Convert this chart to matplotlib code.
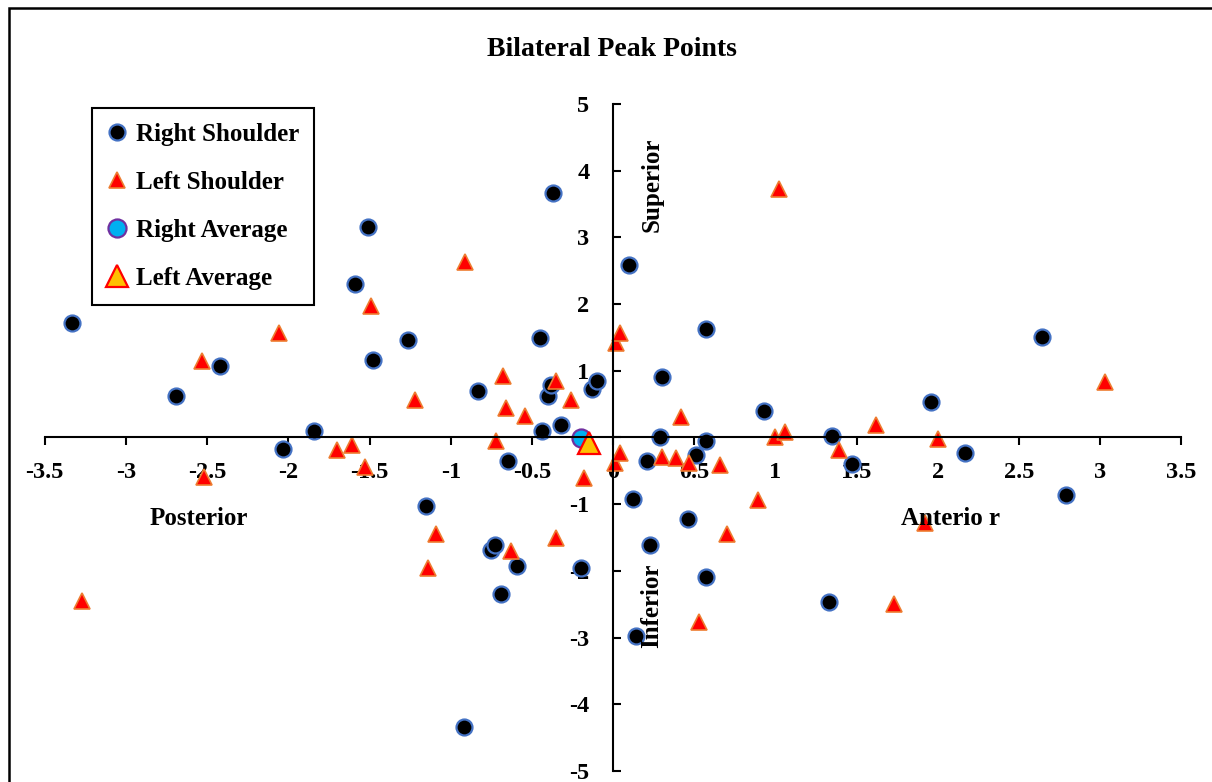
import matplotlib
matplotlib.use("Agg")
import matplotlib.pyplot as plt
from matplotlib.patches import Rectangle

plt.rcParams['font.family'] = ['Liberation Serif', 'DejaVu Serif']
plt.rcParams['font.weight'] = 'bold'
plt.rcParams['axes.unicode_minus'] = False

# peak point coordinates (anterior/posterior on x, superior/inferior on y)
right_x = [-3.33, -2.69, -2.42, -2.03, -1.84, -1.59, -1.51, -1.48, -1.26, -1.15,
           -0.92, -0.83, -0.75, -0.73, -0.69, -0.65, -0.59, -0.45, -0.44, -0.40,
           -0.38, -0.37, -0.32, -0.20, -0.13, -0.10, 0.10, 0.12, 0.14, 0.21,
           0.23, 0.29, 0.30, 0.46, 0.51, 0.57, 0.57, 0.57, 0.93, 1.33,
           1.35, 1.47, 1.96, 2.17, 2.64, 2.79]
right_y = [1.72, 0.62, 1.07, -0.17, 0.10, 2.30, 3.15, 1.16, 1.46, -1.03,
           -4.34, 0.70, -1.69, -1.61, -2.34, -0.36, -1.93, 1.49, 0.10, 0.62,
           0.78, 3.67, 0.19, -1.95, 0.73, 0.85, 2.58, -0.93, -2.98, -0.36,
           -1.61, 0.01, 0.90, -1.22, -0.26, 1.63, -0.05, -2.09, 0.40, -2.47,
           0.02, -0.40, 0.53, -0.23, 1.51, -0.86]

left_x = [-3.27, -2.53, -2.52, -2.06, -1.70, -1.61, -1.53, -1.49, -1.22, -1.14,
          -1.09, -0.91, -0.72, -0.68, -0.66, -0.63, -0.54, -0.35, -0.35, -0.26,
          -0.18, 0.01, 0.02, 0.04, 0.04, 0.30, 0.39, 0.42, 0.47, 0.53,
          0.66, 0.70, 0.89, 1.00, 1.02, 1.06, 1.39, 1.62, 1.73, 1.92,
          2.00, 3.03]
left_y = [-2.45, 1.15, -0.60, 1.56, -0.19, -0.12, -0.44, 1.97, 0.56, -1.95,
          -1.45, 2.63, -0.06, 0.92, 0.44, -1.70, 0.32, 0.84, -1.51, 0.56,
          -0.61, -0.39, 1.41, 1.56, -0.24, -0.30, -0.31, 0.30, -0.39, -2.76,
          -0.42, -1.45, -0.94, 0.00, 3.72, 0.08, -0.19, 0.18, -2.50, -1.29,
          -0.03, 0.83]

right_avg = [-0.20, -0.01]
left_avg = [-0.15, -0.08]

x_ticks = [-3.5, -3, -2.5, -2, -1.5, -1, -0.5, 0, 0.5, 1, 1.5, 2, 2.5, 3, 3.5]
y_ticks = [-5, -4, -3, -2, -1, 0, 1, 2, 3, 4, 5]

fig = plt.figure(figsize=(12.12, 7.82), dpi=100)
ax = fig.add_axes([0.0369, 0.0141, 0.9379, 0.853])

ax.plot(right_x, right_y, 'o', ms=11.5, mfc='black', mec='#4472C4', mew=1.6,
        label='Right Shoulder')
ax.plot(left_x, left_y, '^', ms=11, mfc='#FF0000', mec='#ED7D31', mew=1.2,
        label='Left Shoulder')
ax.plot(right_avg[0], right_avg[1], 'o', ms=13, mfc='#00B0F0', mec='#7030A0', mew=1.6,
        label='Right Average')
ax.plot(left_avg[0], left_avg[1], '^', ms=16, mfc='#FFC000', mec='#FF0000', mew=1.6,
        label='Left Average')

ax.set_xlim(-3.5, 3.5)
ax.set_ylim(-5, 5)

# axes cross at the origin
for side in ['top', 'right']:
    ax.spines[side].set_visible(False)
ax.spines['left'].set_position(('data', 0))
ax.spines['bottom'].set_position(('data', 0))
ax.spines['left'].set_linewidth(1.5)
ax.spines['bottom'].set_linewidth(1.5)

ax.set_xticks(x_ticks)
ax.set_xticklabels([f'{v:g}' for v in x_ticks])
ax.set_yticks(y_ticks)
ax.set_yticklabels([f'{v:g}' for v in y_ticks])
ax.tick_params(axis='x', direction='out', length=6, width=1.5, labelsize=17.5, pad=12)
ax.tick_params(axis='y', direction='in', length=6, width=1.5, labelsize=17.5, pad=17)

ax.text(-2.55, -1.22, 'Posterior', fontsize=18, ha='center', va='center')
ax.text(2.08, -1.22, 'Anterio r', fontsize=18, ha='center', va='center')
ax.text(0.24, 3.78, 'Superior', fontsize=18, rotation=90, ha='center', va='center')
ax.text(0.24, -2.53, 'Inferior', fontsize=18, rotation=90, ha='center', va='center')

fig.text(0.505, 1 - 50 / 782, 'Bilateral Peak Points', fontsize=20,
         ha='center', va='center')

leg = ax.legend(loc='upper left', bbox_to_anchor=(92 / 1212, 1 - 108 / 782),
                bbox_transform=fig.transFigure, fontsize=18, frameon=True,
                fancybox=False, edgecolor='black', framealpha=1,
                labelspacing=1.0, handlelength=0.8, handletextpad=0.35,
                borderpad=0.6, borderaxespad=0)
leg.get_frame().set_linewidth(1.5)

# chart area border
fig.patches.append(Rectangle((9 / 1212, -0.05), 1.1, 1 - 8 / 782 + 0.05,
                             transform=fig.transFigure, fill=False,
                             edgecolor='black', linewidth=1.8))

fig.savefig('out.png', dpi=100)
